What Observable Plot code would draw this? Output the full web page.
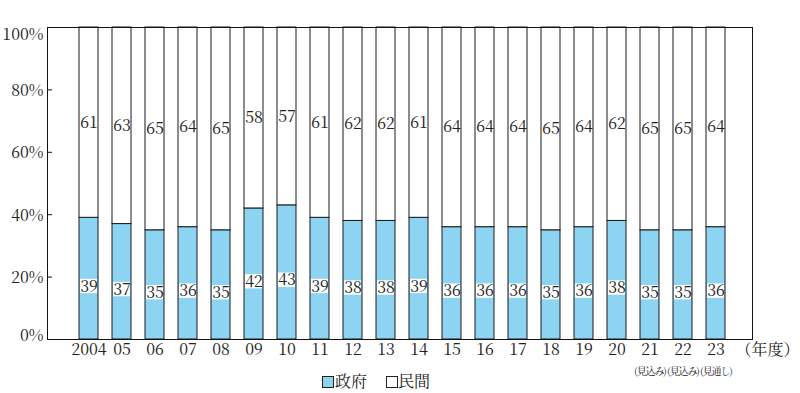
<!DOCTYPE html>
<html>
<head>
<meta charset="utf-8">
<script src="https://cdn.jsdelivr.net/npm/d3@7"></script>
<script src="https://cdn.jsdelivr.net/npm/@observablehq/plot@0.6"></script>
<style>
  html, body { margin: 0; padding: 0; background: #fff; }
  #wrap { position: relative; width: 800px; height: 393px; overflow: hidden; }
  #legend { position: absolute; left: 0; top: 365px; width: 800px; height: 28px;
            font-family: "Noto Serif CJK JP", "Noto Sans CJK JP", sans-serif; font-size: 16px; color: #222; }
  .sw { position: absolute; width: 10px; height: 10px; border: 1px solid #222; top: 11px; }
  .lt { position: absolute; top: 2px; line-height: 28px; height: 28px; }
  svg text.num, svg .num text { font-family: "Noto Serif CJK JP", "Noto Serif", "Liberation Serif", "DejaVu Serif", "FreeSerif", "Times New Roman", Times, serif !important; }
  svg .note text { letter-spacing: -1.1px; }
</style>
</head>
<body>
<div id="wrap">
  <div id="chart"></div>
  <div id="legend">
    <div class="sw" style="left:322px; background:#8dd4f3;"></div>
    <div class="lt" style="left:335px;">政府</div>
    <div class="sw" style="left:386px; background:#fff;"></div>
    <div class="lt" style="left:398px;">民間</div>
  </div>
</div>
<script>
const years = ["2004","05","06","07","08","09","10","11","12","13","14","15","16","17","18","19","20","21","22","23"];
const govt  = [39,37,35,36,35,42,43,39,38,38,39,36,36,36,35,36,38,35,35,36];
const priv  = [61,63,65,64,65,58,57,61,62,62,61,64,64,64,65,64,62,65,65,64];
const notes = ["","","","","","","","","","","","","","","","","","(見込み)","(見込み)","(見通し)"];
const yTicks = [0,20,40,60,80,100];
const categories = ["政府","民間"];
const colors = ["#8dd4f3","#ffffff"];

const govRows = years.map((y,i) => ({year: y, cat: categories[0], value: govt[i]}));
const privRows = years.map((y,i) => ({year: y, cat: categories[1], value: priv[i]}));
const rows = govRows.concat(privRows);
const noteRows = years.map((y,i) => ({year: y, note: notes[i]})).filter(d => d.note);

const serif = "Noto Serif CJK JP, Noto Serif, Liberation Serif, DejaVu Serif, serif";
const cjk = "Noto Serif CJK JP, Noto Sans CJK JP, sans-serif";
const govLabelY = d => d.value / 2 - 2.5;
const midTicks = yTicks.slice(1, -1);
const yAxisOpts = {tickSize: 0, tickPadding: 4, tickFormat: d => d + "%", fontSize: 16, fontFamily: serif, label: null, className: "num"};

const chart = Plot.plot({
  width: 800,
  height: 393,
  marginLeft: 47,
  marginRight: 48,
  marginTop: 27,
  marginBottom: 54,
  style: {fontSize: "16px", color: "#222", background: "transparent"},
  x: {type: "band", domain: years, range: [63, 742], paddingInner: 0.41, paddingOuter: 0.205, axis: null},
  y: {domain: [0, 100], axis: null},
  color: {domain: categories, range: colors},
  marks: [
    Plot.barY(rows, {x: "year", y: "value", fill: "cat", stroke: "#1a1a1a", strokeWidth: 1, order: null}),
    Plot.barY(govRows, {x: "year", y1: d => govLabelY(d) - 2.3, y2: d => govLabelY(d) + 2.3, fill: "white", insetLeft: 1, insetRight: 1}),
    Plot.text(govRows, {x: "year", y: govLabelY, text: d => String(d.value), fontSize: 16, fill: "#222", fontFamily: serif, className: "num"}),
    Plot.text(privRows, {x: "year", y: d => 100 - d.value / 2, text: d => String(d.value), fontSize: 16, fill: "#222", fontFamily: serif, className: "num"}),
    Plot.frame({stroke: "#111", strokeWidth: 1}),
    Plot.tickY(midTicks, {y: d => d, stroke: "#111", insetRight: 700}),
    Plot.axisY(midTicks, {...yAxisOpts, dy: 1}),
    Plot.axisY([yTicks[yTicks.length - 1]], {...yAxisOpts, dy: 7}),
    Plot.axisY([yTicks[0]], {...yAxisOpts, dy: -4}),
    Plot.text(years, {x: d => d, text: d => d, frameAnchor: "bottom", dy: 15, fontSize: 16, fill: "#222", fontFamily: serif, className: "num"}),
    Plot.text(noteRows, {x: "year", text: "note", frameAnchor: "bottom", dy: 35, fontSize: 10, fill: "#222", fontFamily: cjk, className: "note"}),
    Plot.text(["（年度）"], {text: d => d, frameAnchor: "bottom-right", dx: -17, dy: 15, textAnchor: "start", fontSize: 16, fill: "#222", fontFamily: cjk})
  ]
});
document.getElementById("chart").appendChild(chart);
</script>
</body>
</html>
